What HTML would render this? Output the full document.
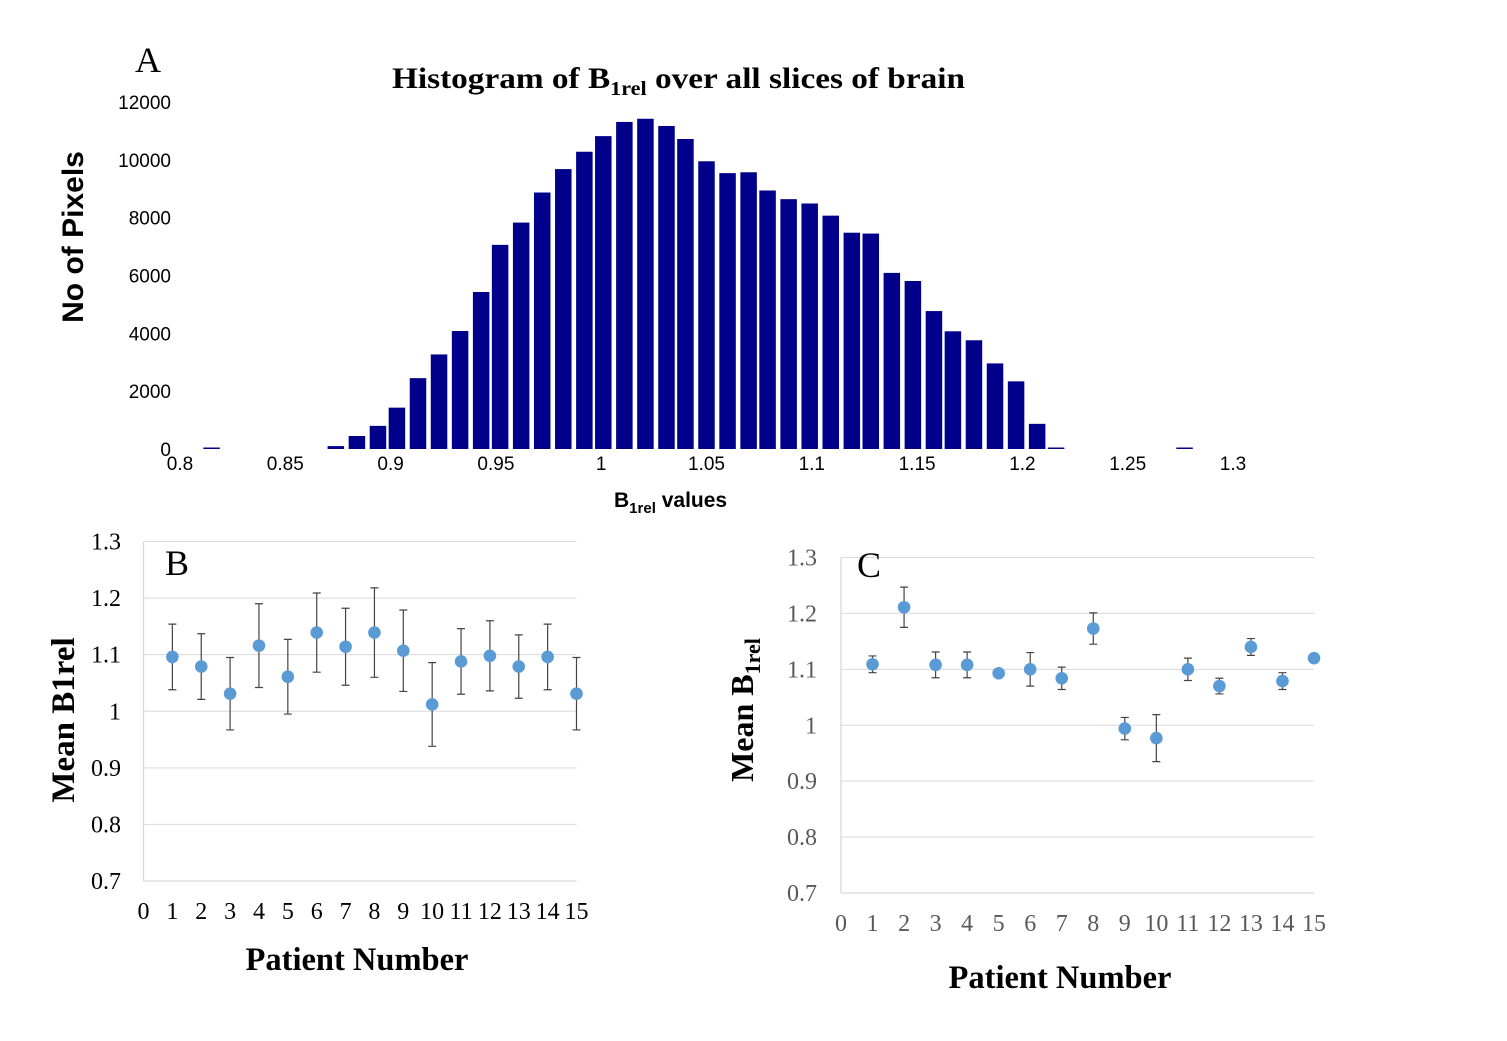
<!DOCTYPE html>
<html><head><meta charset="utf-8"><style>
html,body{margin:0;padding:0;background:#fff;}
svg{display:block;}
</style></head><body>
<svg id="fig" width="1507" height="1041" viewBox="0 0 1507 1041" xmlns="http://www.w3.org/2000/svg">
<rect width="1507" height="1041" fill="#fff"/>
<g id="histA"></g>
<g id="panelB"></g>
<g id="panelC"></g>

<text x="148" y="72" font-family="Liberation Serif, serif" font-size="36" text-anchor="middle">A</text>
<text x="392" y="88" font-family="Liberation Serif, serif" font-weight="bold" font-size="30" textLength="573" lengthAdjust="spacingAndGlyphs">Histogram of B<tspan font-size="20" dy="7">1rel</tspan><tspan dy="-7"> over all slices of brain</tspan></text>
<text transform="translate(83,237) rotate(-90)" font-family="Liberation Sans, sans-serif" font-weight="bold" font-size="30" text-anchor="middle">No of Pixels</text>
<text x="614" y="507" font-family="Liberation Sans, sans-serif" font-weight="bold" font-size="21">B<tspan font-size="15" dy="6">1rel</tspan><tspan dy="-6"> values</tspan></text>

<text x="177" y="575" font-family="Liberation Serif, serif" font-size="36" text-anchor="middle">B</text>
<text transform="translate(74,720) rotate(-90)" font-family="Liberation Serif, serif" font-weight="bold" font-size="33" text-anchor="middle">Mean B1rel</text>
<text x="357" y="970" font-family="Liberation Serif, serif" font-weight="bold" font-size="32.5" text-anchor="middle">Patient Number</text>

<text x="869" y="577" font-family="Liberation Serif, serif" font-size="36" text-anchor="middle">C</text>
<text transform="translate(753,710) rotate(-90)" font-family="Liberation Serif, serif" font-weight="bold" font-size="32" text-anchor="middle">Mean B<tspan font-size="22" dy="7">1rel</tspan></text>
<text x="1060" y="988" font-family="Liberation Serif, serif" font-weight="bold" font-size="32.5" text-anchor="middle">Patient Number</text>
</svg>
<script>
const NS = "http://www.w3.org/2000/svg";
// Histogram data
const binCenters = [0.815,0.874,0.884,0.894,0.903,0.913,0.923,0.933,0.943,0.952,0.962,0.972,0.982,0.992,1.001,1.011,1.021,1.031,1.040,1.050,1.060,1.070,1.079,1.089,1.099,1.109,1.119,1.128,1.138,1.148,1.158,1.167,1.177,1.187,1.197,1.207,1.216,1.277];
const binCounts = [50,100,450,800,1430,2450,3270,4080,5430,7060,7830,8870,9680,10280,10820,11310,11420,11170,10720,9950,9540,9570,8940,8640,8490,8070,7480,7450,6090,5810,4770,4070,3760,2960,2340,870,35,50];
const histYTicks = [0,2000,4000,6000,8000,10000,12000];
const histXTicks = ["0.8","0.85","0.9","0.95","1","1.05","1.1","1.15","1.2","1.25","1.3"];
// Panel B data
const patients = [1,2,3,4,5,6,7,8,9,10,11,12,13,14,15];
const meanB = [1.096,1.079,1.031,1.116,1.061,1.139,1.114,1.139,1.107,1.012,1.088,1.098,1.079,1.096,1.031];
const errB = [0.058,0.058,0.064,0.074,0.066,0.070,0.068,0.079,0.072,0.074,0.058,0.062,0.056,0.058,0.064];
// Panel C data
const meanC = [1.109,1.211,1.108,1.108,1.093,1.100,1.084,1.173,0.994,0.977,1.100,1.070,1.140,1.079,1.120];
const errC = [0.015,0.036,0.023,0.023,0.003,0.030,0.020,0.028,0.020,0.042,0.020,0.014,0.015,0.015,0.005];
const scatterYTicks = ["0.7","0.8","0.9","1","1.1","1.2","1.3"];
const scatterXTicks = ["0","1","2","3","4","5","6","7","8","9","10","11","12","13","14","15"];

function mk(tag, attrs, parent){ const e=document.createElementNS(NS,tag); for(const k in attrs) e.setAttribute(k,attrs[k]); parent.appendChild(e); return e; }

// Histogram
(function(){
  const g=document.getElementById('histA');
  const xA=v=>180+(v-0.8)/0.5*1053;
  const yA=c=>449-c/12000*347;
  const bw=16.5;
  binCenters.forEach((v,i)=>{
    const c=binCounts[i];
    const h=Math.max(1.5,449-yA(c));
    const r=mk('rect',{x:xA(v)-bw/2,y:449-h,width:bw,height:h,fill:'#00008b'},g);
    
    
  });
  histYTicks.forEach(t=>{
    const tx=mk('text',{x:171,y:yA(t)+7,'text-anchor':'end','font-family':'Liberation Sans, sans-serif','font-size':19},g);
    tx.textContent=String(t);
    
    
  });
  histXTicks.forEach(t=>{
    const tx=mk('text',{x:xA(parseFloat(t)),y:470,'text-anchor':'middle','font-family':'Liberation Sans, sans-serif','font-size':19},g);
    tx.textContent=t;
    
    
  });
})();

function scatter(id, means, errs, L, R, T, B, yLabRight, xLabY, tickColor){
  const g=document.getElementById(id);
  const xS=p=>L+p/15*(R-L);
  const yS=v=>B-(v-0.7)/0.6*(B-T);
  scatterYTicks.forEach(t=>{
    const v=parseFloat(t);
    if(v>0.7){
      const l=mk('line',{x1:L,x2:R,y1:yS(v),y2:yS(v),stroke:'#d9d9d9','stroke-width':1},g);
      
      
    }
    const tx=mk('text',{x:yLabRight,y:yS(v)+8,'text-anchor':'end','font-family':'Liberation Serif, serif','font-size':24,fill:tickColor},g);
    tx.textContent=t;
    
    
  });
  const ax=mk('line',{x1:L,x2:L,y1:T,y2:B,stroke:'#d9d9d9','stroke-width':1.3},g);
  
  
  const bx=mk('line',{x1:L,x2:R,y1:B,y2:B,stroke:'#d9d9d9','stroke-width':1.3},g);
  
  
  scatterXTicks.forEach(t=>{
    const tx=mk('text',{x:xS(parseFloat(t)),y:xLabY,'text-anchor':'middle','font-family':'Liberation Serif, serif','font-size':24,fill:tickColor},g);
    tx.textContent=t;
    
    
  });
  patients.forEach((p,i)=>{
    const x=xS(p), m=means[i], e=errs[i];
    const eg=mk('path',{d:`M${x},${yS(m+e)}V${yS(m-e)}M${x-4},${yS(m+e)}H${x+4}M${x-4},${yS(m-e)}H${x+4}`,stroke:'#444','stroke-width':1.2,fill:'none'},g);
    
    
    const c=mk('circle',{cx:x,cy:yS(m),r:6.3,fill:'#5b9bd5'},g);
    
    
  });
}
scatter('panelB', meanB, errB, 143.5, 576.5, 541.5, 881, 121, 919, '#000');
scatter('panelC', meanC, errC, 841, 1314, 557.5, 893, 817, 931, '#595959');
</script>
</body></html>
